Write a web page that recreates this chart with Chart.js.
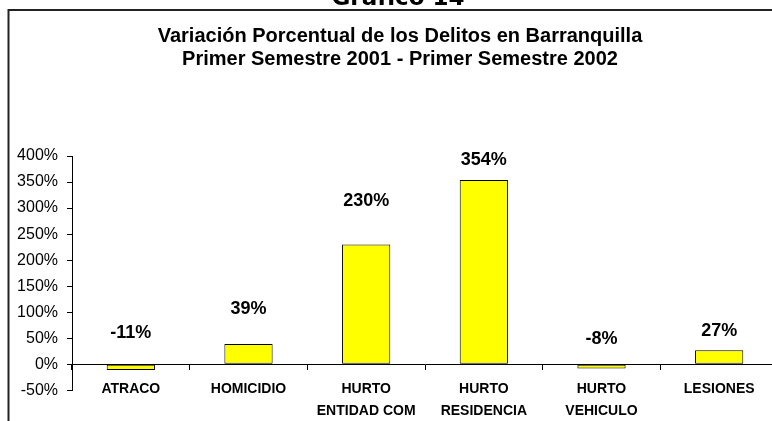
<!DOCTYPE html>
<html lang="es">
<head>
  <meta charset="UTF-8" />
  <title>Gráfico 14</title>
  <script src="https://cdn.jsdelivr.net/npm/chart.js"></script>
  <style>
    html, body {
      margin: 0;
      padding: 0;
      background: #fff;
      overflow: hidden;
    }
    #wrap {
      width: 772px;
      height: 421px;
      overflow: hidden;
      position: relative;
    }
    #chart {
      position: absolute;
      left: 0;
      top: 0;
    }
  </style>
</head>
<body>
  <div id="wrap">
    <canvas id="chart" width="800" height="421"></canvas>
  </div>

<script>
  // datos del grafico
  const categories = [
    'ATRACO',
    'HOMICIDIO',
    ['HURTO', 'ENTIDAD COM'],
    ['HURTO', 'RESIDENCIA'],
    ['HURTO', 'VEHICULO'],
    'LESIONES'
  ];
  const variation = [-11, 39, 230, 354, -8, 27];
  const yTicks = { min: -50, max: 400, step: 50 };

  const chartTitle = [
    'Variación Porcentual de los Delitos en Barranquilla',
    'Primer Semestre 2001 - Primer Semestre 2002'
  ];
  const heading = 'Gráfico 14';

  // where each value label sits (in % units, the labels were moved by hand)
  const labelAnchor = [60, 106, 313, 393, 48, 64];

  const FONT = '"Liberation Sans", Arial, sans-serif';

  // frame, sheet heading and the two title lines (centred on the whole frame,
  // which runs past the right edge of the picture)
  const framePlugin = {
    id: 'frame',
    beforeDraw(chart) {
      const ctx = chart.ctx;
      ctx.save();
      ctx.fillStyle = '#fff';
      ctx.fillRect(0, 0, chart.width, chart.height);
      ctx.strokeStyle = '#222';
      ctx.lineWidth = 2;
      ctx.beginPath();
      ctx.moveTo(8.5, chart.height);
      ctx.lineTo(8.5, 10);
      ctx.lineTo(chart.width, 10);
      ctx.stroke();
      ctx.fillStyle = '#000';
      ctx.textAlign = 'center';
      ctx.textBaseline = 'alphabetic';
      ctx.font = 'bold 23px "DejaVu Sans", sans-serif';
      ctx.fillText(heading, 398, 5);
      ctx.font = 'bold 20px ' + FONT;
      ctx.fillText(chartTitle[0], 400, 42);
      ctx.fillText(chartTitle[1], 400, 65);
      ctx.restore();
    }
  };

  const valueLabels = {
    id: 'valueLabels',
    afterDatasetsDraw(chart) {
      const ctx = chart.ctx;
      const meta = chart.getDatasetMeta(0);
      const y = chart.scales.y;
      ctx.save();
      ctx.fillStyle = '#000';
      ctx.font = 'bold 18px ' + FONT;
      ctx.textAlign = 'center';
      ctx.textBaseline = 'middle';
      meta.data.forEach((bar, i) => {
        ctx.fillText(variation[i] + '%', bar.x, y.getPixelForValue(labelAnchor[i]));
      });
      ctx.restore();
    }
  };

  new Chart(document.getElementById('chart'), {
    type: 'bar',
    data: {
      labels: categories,
      datasets: [{
        data: variation,
        backgroundColor: '#ffff00',
        borderColor: '#000',
        borderWidth: 1,
        borderSkipped: false,
        categoryPercentage: 1,
        barPercentage: 0.41
      }]
    },
    options: {
      responsive: false,
      animation: false,
      layout: { padding: { left: 0, right: 22, top: 156, bottom: 30.7 } },
      plugins: {
        legend: { display: false },
        tooltip: { enabled: false },
        title: { display: false }
      },
      scales: {
        x: {
          position: { y: 0 },
          grid: { drawOnChartArea: false, tickLength: 5, color: '#000', offset: true },
          border: { color: '#000', width: 1 },
          ticks: {
            color: '#000',
            padding: 9,
            maxRotation: 0,
            autoSkip: false,
            font: { family: FONT, size: 14, weight: 'bold', lineHeight: '22px' }
          }
        },
        y: {
          min: yTicks.min,
          max: yTicks.max,
          grid: { drawOnChartArea: false, tickLength: 5, color: '#000' },
          border: { color: '#000', width: 1 },
          ticks: {
            stepSize: yTicks.step,
            color: '#000',
            padding: 9,
            font: { family: FONT, size: 16 },
            callback: v => v + '%'
          },
          afterFit(scale) { scale.width = 72; }
        }
      }
    },
    plugins: [framePlugin, valueLabels]
  });
</script>
</body>
</html>
